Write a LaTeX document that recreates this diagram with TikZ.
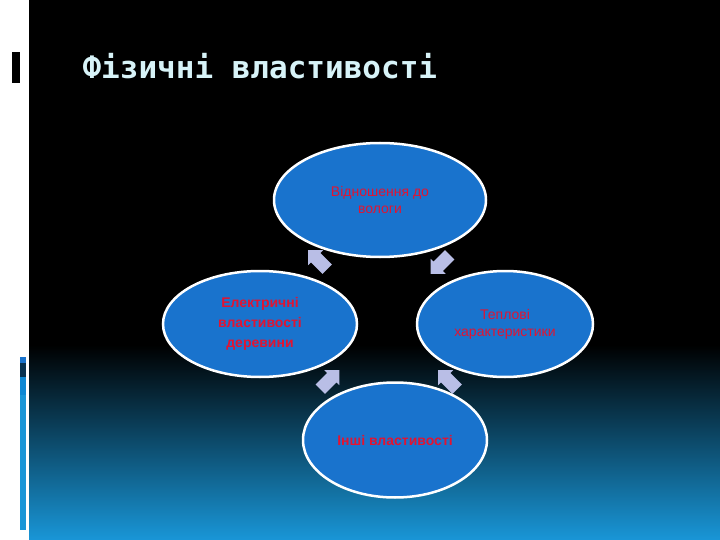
\documentclass[tikz,border=0pt]{standalone}
\usepackage{fontspec}
\setmainfont{Liberation Sans}
\newfontfamily\titlefont{DejaVu Sans Mono}
\usetikzlibrary{shapes.geometric,shapes.arrows,calc}
\definecolor{slideblue}{RGB}{25,150,215}
\definecolor{slidemid}{RGB}{8,50,80}
\definecolor{ellblue}{RGB}{25,115,205}
\definecolor{arrowfill}{RGB}{185,190,230}
\definecolor{txtred}{RGB}{225,20,50}
\definecolor{titlecyan}{RGB}{215,243,248}
\tikzset{
  prop/.style={ellipse, draw=white, line width=2.5pt, fill=ellblue, inner sep=0pt, text=txtred, align=center, font=\fontsize{14}{17}\selectfont},
  cyc/.style={single arrow, fill=arrowfill, inner xsep=0pt, inner ysep=6.5pt, minimum height=27pt, single arrow head extend=4pt}
}
\begin{document}
\begin{tikzpicture}[x=1pt, y=-1pt]
			\useasboundingbox (0,0) rectangle (720,540);
			\fill[white] (0,0) rectangle (720,540);
			\fill[black] (29,0) rectangle (720,345);
			\shade[top color=black, middle color=slidemid, bottom color=slideblue] (29,345) rectangle (720,540);
			\fill[black] (12,52) rectangle (20,83);
			\fill[slideblue] (20,357) rectangle (26,530);
			\fill[ellblue] (20,357) rectangle (26,363);
			\fill[slidemid] (20,363) rectangle (26,377);
			\fill[cyan!70!blue] (20,377) rectangle (26,395);
			\node[anchor=base west, text=titlecyan, font=\titlefont\bfseries\fontsize{31}{31}\selectfont] (title) at (79,79) {Фізичні властивості};
			\node[prop, minimum width=212pt, minimum height=114pt] (moist) at (380,200) {Відношення до\\вологи};
			\node[prop, minimum width=194pt, minimum height=106pt, font=\bfseries\fontsize{14}{20}\selectfont] (elec) at (260,324) {Електричні\\властивості\\деревини};
			\node[prop, minimum width=176pt, minimum height=106pt] (heat) at (505,324) {Теплові\\характеристики};
			\node[prop, minimum width=184pt, minimum height=115pt, font=\bfseries\fontsize{14}{17}\selectfont] (other) at (395,440) {Інші властивості};
			\node[cyc, rotate=135] (a1) at ($(moist)!.5!(elec)$) {};
			\node[cyc, rotate=225] (a2) at ($(moist)!.5!(heat)$) {};
			\node[cyc, rotate=45] (a3) at ($(elec)!.5!(other)$) {};
			\node[cyc, rotate=135] (a4) at ($(heat)!.5!(other)$) {};
\end{tikzpicture}
\end{document}
